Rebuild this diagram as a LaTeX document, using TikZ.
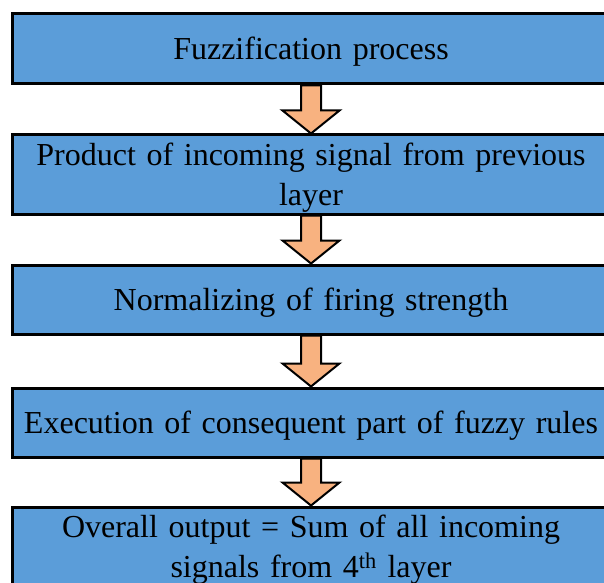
\documentclass[tikz,border=0pt]{standalone}
\usepackage{fontspec}
\setmainfont{Liberation Serif}
\usetikzlibrary{calc}
\definecolor{boxblue}{RGB}{91,157,217}
\definecolor{arrorange}{RGB}{248,178,128}
\tikzset{
  flowbox/.style={draw=black, line width=3pt, fill=boxblue, minimum width=598pt,
    inner sep=0pt, text width=590pt, align=center, text height=22pt, text depth=1pt,
    font=\fontsize{32}{40}\selectfont},
  twoline/.style={text height=22pt, text depth=41pt},
  blockarr/.style={draw=black, line width=2pt, fill=arrorange, line join=miter}
}
\newcommand{\blockarrow}[2]{%
  \draw[blockarr] ($(#1.south)+(-10,0)$) -- ($(#2.north)+(-10,23)$) -- ($(#2.north)+(-28.5,23)$)
   -- (#2.north) -- ($(#2.north)+(28.5,23)$) -- ($(#2.north)+(10,23)$) -- ($(#1.south)+(10,0)$) -- cycle;}
\begin{document}
\begin{tikzpicture}[x=1pt,y=1pt]
\useasboundingbox (0,0) rectangle (604,582);
\node[flowbox, minimum height=70pt] (b1) at (311,533) {Fuzzification process};
\node[flowbox, twoline, minimum height=79pt] (b2) at (311,407.5) {Product of incoming signal from previous\\layer};
\node[flowbox, minimum height=69pt] (b3) at (311,282.5) {Normalizing of firing strength};
\node[flowbox, minimum height=69pt] (b4) at (311,159.5) {Execution of consequent part of fuzzy rules};
\node[flowbox, twoline, minimum height=80pt] (b5) at (311,35) {Overall output = Sum of all incoming\\signals from 4\textsuperscript{th} layer};
\blockarrow{b1}{b2}
\blockarrow{b2}{b3}
\blockarrow{b3}{b4}
\blockarrow{b4}{b5}
\end{tikzpicture}
\end{document}
